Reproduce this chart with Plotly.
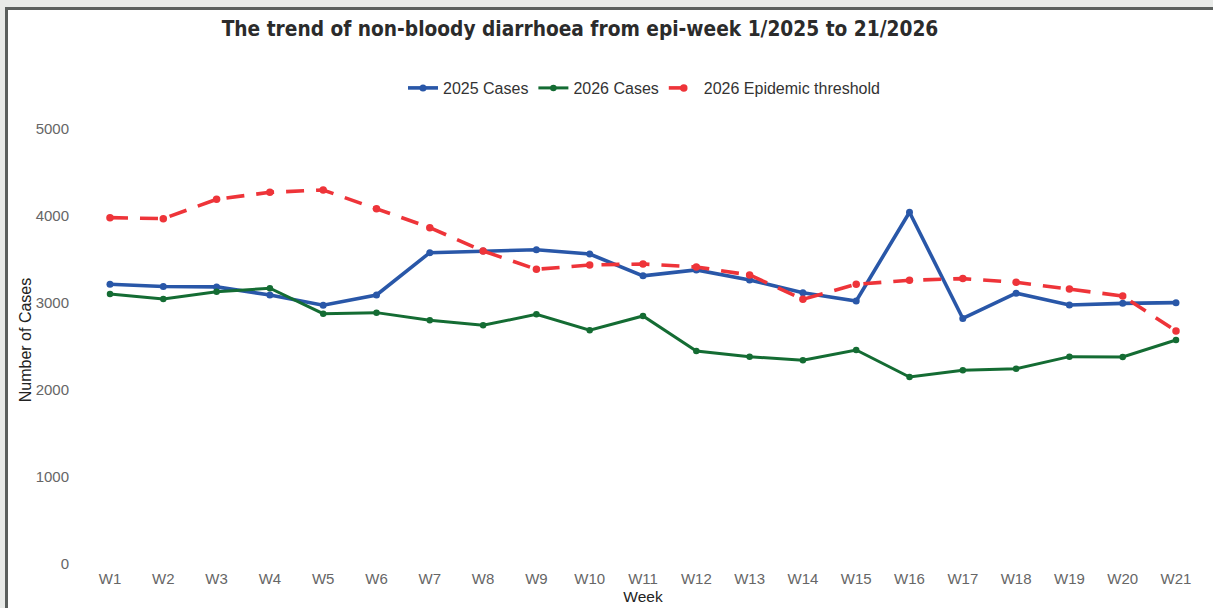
import plotly.graph_objects as go

weeks = [f"W{i}" for i in range(1, 22)]
cases_2025 = [3215, 3190, 3185, 3092, 2975, 3092, 3578, 3598, 3612, 3563, 3312,
              3380, 3264, 3118, 3023, 4043, 2822, 3112, 2977, 2996, 3004]
cases_2026 = [3103, 3046, 3130, 3169, 2877, 2889, 2801, 2743, 2870, 2686, 2851,
              2448, 2383, 2341, 2460, 2149, 2226, 2245, 2383, 2379, 2575]
threshold_2026 = [3981, 3969, 4192, 4272, 4299, 4084, 3866, 3598, 3387, 3437, 3448,
                  3414, 3322, 3042, 3215, 3261, 3280, 3238, 3161, 3080, 2678]

fig = go.Figure()
fig.add_trace(go.Scatter(x=weeks, y=cases_2025, mode="lines+markers", name="2025 Cases",
                         line=dict(color="#2957a8", width=3.6), marker=dict(size=7, color="#2957a8")))
fig.add_trace(go.Scatter(x=weeks, y=cases_2026, mode="lines+markers", name="2026 Cases",
                         line=dict(color="#146c33", width=3), marker=dict(size=6.5, color="#146c33")))
fig.add_trace(go.Scatter(x=weeks, y=threshold_2026, mode="lines+markers", name="2026 Epidemic threshold",
                         line=dict(color="#ee3439", width=3.6, dash="18px,12px"),
                         marker=dict(size=7.5, color="#ee3439")))

L, R, T, B = 94, 21, 112, 40
W, H = 1213, 608
pw, ph = W - L - R, H - T - B

def px(x):
    return (x - L) / pw

def py(y):
    return (H - B - y) / ph

shapes = [
    dict(type="rect", xref="paper", yref="paper", x0=px(0), x1=px(W), y0=py(0), y1=py(7),
         fillcolor="#e8eae8", line=dict(width=0), layer="above"),
    dict(type="rect", xref="paper", yref="paper", x0=px(0), x1=px(5), y0=py(H), y1=py(0),
         fillcolor="#e8eae8", line=dict(width=0), layer="above"),
    dict(type="rect", xref="paper", yref="paper", x0=px(5), x1=px(W), y0=py(10), y1=py(7),
         fillcolor="#5b5f5d", line=dict(width=0), layer="above"),
    dict(type="rect", xref="paper", yref="paper", x0=px(5), x1=px(8), y0=py(H), y1=py(7),
         fillcolor="#5b5f5d", line=dict(width=0), layer="above"),
]

fig.update_layout(
    width=W, height=H,
    margin=dict(l=L, r=R, t=T, b=B, pad=0, autoexpand=False),
    paper_bgcolor="white", plot_bgcolor="white",
    title=dict(text="<b>The trend of non-bloody diarrhoea from epi-week 1/2025 to 21/2026</b>",
               font=dict(family="DejaVu Sans Condensed, Liberation Sans Narrow, DejaVu Sans, sans-serif",
                         size=20.7, color="#2b2b2b"),
               x=px(580), xanchor="center", xref="paper",
               y=1 - 29 / H, yanchor="middle", yref="container"),
    legend=dict(orientation="h", x=px(644), xanchor="center", y=py(88), yanchor="middle",
                font=dict(family="Liberation Sans, Arial, sans-serif", size=16, color="#333333"),
                bgcolor="rgba(0,0,0,0)", itemwidth=30),
    shapes=shapes,
    showlegend=True,
)
fig.update_xaxes(range=[-0.3, 20.3], showgrid=False, zeroline=False, showline=False, automargin=False,
                 tickfont=dict(family="Liberation Sans, Arial, sans-serif", size=15, color="#666666"),
                 title=dict(text="Week", font=dict(family="Liberation Sans, Arial, sans-serif", size=15.5, color="#222222"),
                            standoff=5))
fig.update_yaxes(range=[-46, 5195], showgrid=False, zeroline=False, showline=False, automargin=False,
                 tickvals=[0, 1000, 2000, 3000, 4000, 5000],
                 ticklabelstandoff=24,
                 tickfont=dict(family="Liberation Sans, Arial, sans-serif", size=15, color="#666666"),
                 title=dict(text="Number of Cases", font=dict(family="Liberation Sans, Arial, sans-serif", size=16, color="#222222"),
                            standoff=0))

fig.write_html("out.html", config={"displayModeBar": False},
               post_script="document.body.style.margin='0';document.body.style.overflow='hidden';")
